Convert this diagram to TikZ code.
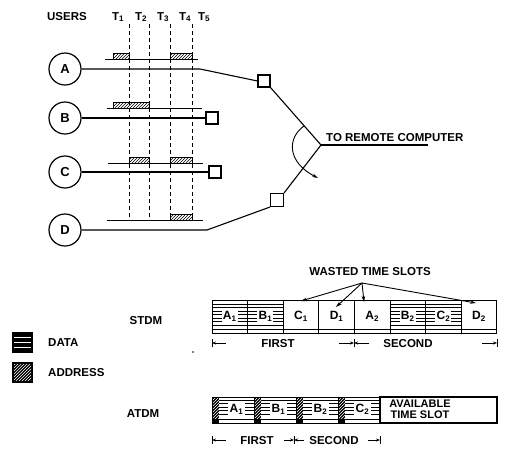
\documentclass[tikz,border=0pt]{standalone}
\usepackage{fontspec}
\setmainfont{Liberation Sans}
\usetikzlibrary{arrows.meta,patterns}
\begin{document}
\begin{tikzpicture}[x=1pt,y=-1pt,
  font=\fontsize{11.5}{12}\selectfont\bfseries,
  ln/.style={line width=1.1pt},
  usr/.style={circle,draw,line width=1.2pt,minimum size=32pt,inner sep=0pt,font=\fontsize{13}{14}\selectfont\bfseries},
  sq/.style={draw,line width=1.1pt,minimum size=12pt,inner sep=0pt},
  tl/.style={line width=1pt},
  blk/.style={draw,line width=0.8pt,pattern=north east lines},
  dsh/.style={line width=0.8pt,dash pattern=on 4pt off 3pt},
  lbl/.style={inner sep=0pt,anchor=base},
  arr/.style={-{Stealth[length=6pt,width=3.5pt]},line width=0.9pt},
  dim/.style={-{Stealth[length=4pt,width=3pt]},line width=0.8pt},
  tick/.style={line width=0.8pt},
  slotlab/.style={fill=white,inner sep=1.2pt,font=\fontsize{12}{13}\selectfont\bfseries},
]
\useasboundingbox (0,0) rectangle (506,448);

% header
\node[lbl] (users) at (67,20) {USERS};
\foreach \n/\x in {1/118,2/141,3/163,4/185,5/204}
  \node[lbl] (T\n) at (\x,20) {T\textsubscript{\n}};

% dashed time marks
\foreach \x in {129,149,170,192}
  \draw[dsh] (\x,24) -- (\x,220);

% users
\node[usr] (A) at (65,69) {A};
\node[usr] (B) at (65,118) {B};
\node[usr] (C) at (65,172) {C};
\node[usr] (D) at (65,230) {D};

% time lines
\draw[tl] (105,59) -- (198,59);
\draw[tl] (107,108) -- (202,108);
\draw[tl] (108,163) -- (203,163);
\draw[tl] (107,220) -- (203,220);

% address blocks
\draw[blk] (113,53) rectangle (129,59);
\draw[blk] (170,53) rectangle (192,59);
\draw[blk] (113,102) rectangle (149,108);
\draw[blk] (129,157) rectangle (149,163);
\draw[blk] (170,157) rectangle (192,163);
\draw[blk] (170,214) rectangle (192,220);

% squares
\node[sq] (sqA) at (264,81) {};
\node[sq] (sqB) at (212,118) {};
\node[sq] (sqC) at (215,172) {};
\node[sq,minimum size=13pt] (sqD) at (277,200) {};

\coordinate (abend) at (200,69);
\coordinate (dbend) at (207,230);
\draw[ln] (A.east) -- (abend) -- (sqA.west);
\draw[ln] (B.east) -- (sqB.west);
\draw[ln] (C.east) -- (sqC.west);
\draw[ln] (D.east) -- (dbend) -- (sqD.south west);

\coordinate (jn) at (321,145);
\coordinate (rc) at (428,145);
\draw[ln] (sqA.south east) -- (jn) -- (sqD.north east);
\draw[ln] (jn) -- (rc);
\node[lbl,anchor=base west] (rtxt) at (326,141) {TO REMOTE COMPUTER};

\coordinate (arcs) at (304,126);
\coordinate (arce) at (318,178);
\draw[arr] (arcs) .. controls (287,138) and (287,162) .. (arce);

% wasted time slots
\node[lbl] (wts) at (370,275) {WASTED TIME SLOTS};
\coordinate (ap) at (362,283);
\coordinate (w1) at (301,301);
\coordinate (w2) at (336,307);
\coordinate (w3) at (364,302);
\coordinate (w4) at (476,303);

% STDM frame
\foreach \L/\n/\d [count=\i from 0] in {A/1/1,B/1/1,C/1/0,D/1/0,A/2/0,B/2/1,C/2/1,D/2/0} {
  \pgfmathsetmacro\xl{212+35.6*\i}
  \pgfmathsetmacro\xr{\xl+35.6}
  \ifnum\d=1
    \foreach \yy in {304,307.5,311,314.5,318,321.5,325}
      \draw[line width=0.4pt] (\xl,\yy) -- (\xr,\yy);
  \fi
  \draw[line width=1pt] (\xl,300) rectangle (\xr,333);
  \draw[line width=0.8pt] (\xl,329) -- (\xr,329);
  \node[slotlab] (s\L\n) at ({\xl+17.8},316) {\L\textsubscript{\n}};
}
\foreach \w in {w1,w2,w3,w4}
  \draw[arr] (ap) -- (\w);

\node[lbl] (stdm) at (146,324) {STDM};

% STDM dimensions
\draw[tick] (212,339) -- (212,347);
\draw[tick] (354,339) -- (354,347);
\draw[tick] (497,339) -- (497,347);
\draw[dim] (226,343) -- (212,343);
\draw[dim] (339,343) -- (354,343);
\draw[dim] (369,343) -- (354,343);
\draw[dim] (482,343) -- (497,343);
\node[lbl] (first1) at (278,347) {FIRST};
\node[lbl] (second1) at (408,347) {SECOND};

% legend
\node[draw,fill=black,line width=1pt,minimum size=20pt,inner sep=0pt] (dataicon) at (22.5,342.5) {};
\foreach \yy in {337.5,342.5,347.5}
  \draw[white,line width=1.4pt] (14,\yy) -- (31,\yy);
\node[lbl,anchor=base west] (datatxt) at (48,346) {DATA};
\node[draw,fill=black,line width=1pt,minimum size=20pt,inner sep=0pt] (addricon) at (22.5,372.5) {};
\fill[pattern=north east lines,pattern color=white] (14,364.5) rectangle (31,380.5);
\node[lbl,anchor=base west] (addrtxt) at (48,376) {ADDRESS};
\fill (193,352) circle (0.9pt);

% ATDM frame
\node[lbl] (atdm) at (143,417) {ATDM};
\foreach \L/\n [count=\i from 0] in {A/1,B/1,B/2,C/2} {
  \pgfmathsetmacro\xl{212+42*\i}
  \pgfmathsetmacro\xa{\xl+7}
  \pgfmathsetmacro\xr{\xl+42}
  \foreach \yy in {400,403.5,407,410.5,414}
    \draw[line width=0.4pt] (\xa,\yy) -- (\xr,\yy);
  \fill[black] (\xl,397) rectangle (\xa,423);
  \fill[pattern=north east lines,pattern color=white] (\xl,398) rectangle (\xa,418);
  \draw[line width=1pt] (\xl,397) rectangle (\xr,423);
  \draw[line width=0.8pt] (\xl,419) -- (\xr,419);
  \node[slotlab] (t\L\n) at ({\xa+17.5},409) {\L\textsubscript{\n}};
}
\draw[line width=1.2pt] (380,397) rectangle (497,423);
\node[align=center,inner sep=0pt,font=\fontsize{11}{11}\selectfont\bfseries] (avail) at (420,409.5) {AVAILABLE\\TIME SLOT};

% ATDM dimensions
\draw[tick] (212,436) -- (212,444);
\draw[tick] (294,436) -- (294,444);
\draw[tick] (380,436) -- (380,444);
\draw[dim] (226,440) -- (212,440);
\draw[dim] (284,440) -- (294,440);
\draw[dim] (304,440) -- (294,440);
\draw[dim] (368,440) -- (380,440);
\node[lbl] (first2) at (257,444) {FIRST};
\node[lbl] (second2) at (334,444) {SECOND};
\end{tikzpicture}
\end{document}
